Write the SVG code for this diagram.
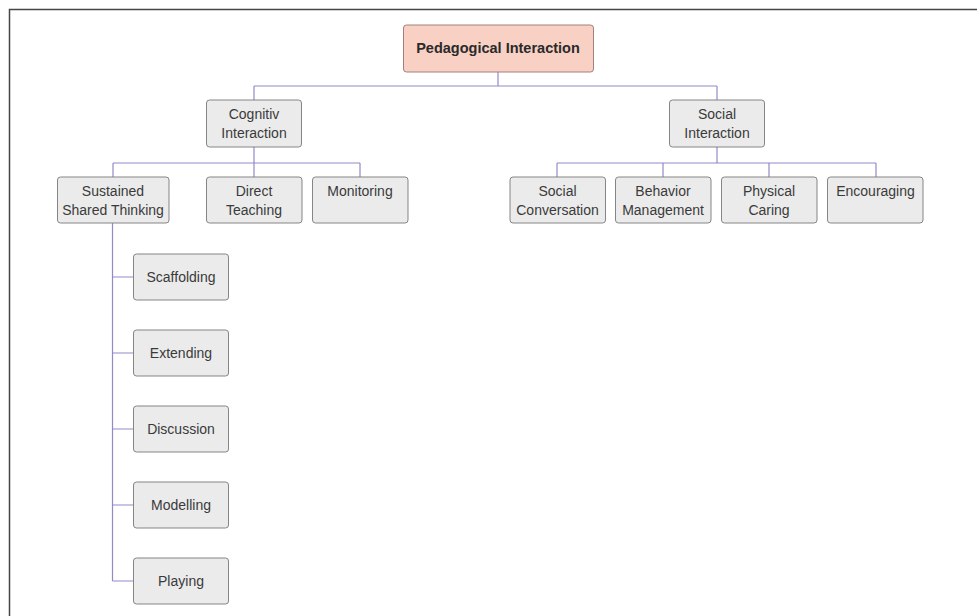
<svg xmlns="http://www.w3.org/2000/svg" width="977" height="616" viewBox="0 0 977 616">
<style>
.frame{fill:none;stroke:#4a4444;stroke-width:1.5}
.n{fill:#ebebeb;stroke:#858585;stroke-width:1}
.root{fill:#f8d0c4;stroke:#a0827a;stroke-width:1}
.t{font-family:"Liberation Sans",Arial,sans-serif;font-size:14px;fill:#3a3a3a;text-anchor:middle}
.tb{font-family:"Liberation Sans",Arial,sans-serif;font-size:14.5px;font-weight:bold;fill:#2a2a2a;text-anchor:middle}
.c{fill:none;stroke:#9588c8;stroke-width:1.2}
</style>
<rect width="977" height="616" fill="#ffffff"/>
<path class="frame" d="M9.5,616 V9.5 H977"/>
<g id="connectors">
<path class="c" d="M498,72 V86 M254,86 H717 M254,86 V100 M717,86 V100"/>
<path class="c" d="M254,147 V163 M113,163 H360 M113,163 V177 M254,163 V177 M360,163 V177"/>
<path class="c" d="M717,147 V163 M557,163 H876 M557,163 V177 M663,163 V177 M769,163 V177 M876,163 V177"/>
<path class="c" d="M112.5,223 V581 M112.5,277 H133 M112.5,353 H133 M112.5,429 H133 M112.5,505 H133 M112.5,581 H133"/>
</g>
<g id="root"><rect class="root" x="403.5" y="25" width="190" height="47" rx="3"/><text class="tb" x="498" y="52.5">Pedagogical Interaction</text></g>
<g id="cognitiv"><rect class="n" x="206.5" y="100" width="95" height="47" rx="3"/><text class="t" x="254" y="119">Cognitiv</text><text class="t" x="254" y="138">Interaction</text></g>
<g id="social"><rect class="n" x="669.5" y="100" width="95" height="47" rx="3"/><text class="t" x="717" y="119">Social</text><text class="t" x="717" y="138">Interaction</text></g>
<g id="sustained"><rect class="n" x="57.5" y="177" width="111.5" height="46" rx="3"/><text class="t" x="113" y="195.5">Sustained</text><text class="t" x="113" y="214.5">Shared Thinking</text></g>
<g id="direct"><rect class="n" x="206.5" y="177" width="95.5" height="46" rx="3"/><text class="t" x="254" y="195.5">Direct</text><text class="t" x="254" y="214.5">Teaching</text></g>
<g id="monitoring"><rect class="n" x="312.5" y="177" width="95.5" height="46" rx="3"/><text class="t" x="360" y="195.5">Monitoring</text></g>
<g id="socialconv"><rect class="n" x="510" y="177" width="95.5" height="46" rx="3"/><text class="t" x="557.5" y="195.5">Social</text><text class="t" x="557.5" y="214.5">Conversation</text></g>
<g id="behavior"><rect class="n" x="615.5" y="177" width="95.5" height="46" rx="3"/><text class="t" x="663" y="195.5">Behavior</text><text class="t" x="663" y="214.5">Management</text></g>
<g id="physical"><rect class="n" x="721.5" y="177" width="95.5" height="46" rx="3"/><text class="t" x="769" y="195.5">Physical</text><text class="t" x="769" y="214.5">Caring</text></g>
<g id="encouraging"><rect class="n" x="827.5" y="177" width="95.5" height="46" rx="3"/><text class="t" x="875.5" y="195.5">Encouraging</text></g>
<g id="scaffolding"><rect class="n" x="133.5" y="254" width="95" height="46" rx="3"/><text class="t" x="181" y="282">Scaffolding</text></g>
<g id="extending"><rect class="n" x="133.5" y="330" width="95" height="46" rx="3"/><text class="t" x="181" y="358">Extending</text></g>
<g id="discussion"><rect class="n" x="133.5" y="406" width="95" height="46" rx="3"/><text class="t" x="181" y="434">Discussion</text></g>
<g id="modelling"><rect class="n" x="133.5" y="482" width="95" height="46" rx="3"/><text class="t" x="181" y="510">Modelling</text></g>
<g id="playing"><rect class="n" x="133.5" y="558" width="95" height="46" rx="3"/><text class="t" x="181" y="586">Playing</text></g>
</svg>
